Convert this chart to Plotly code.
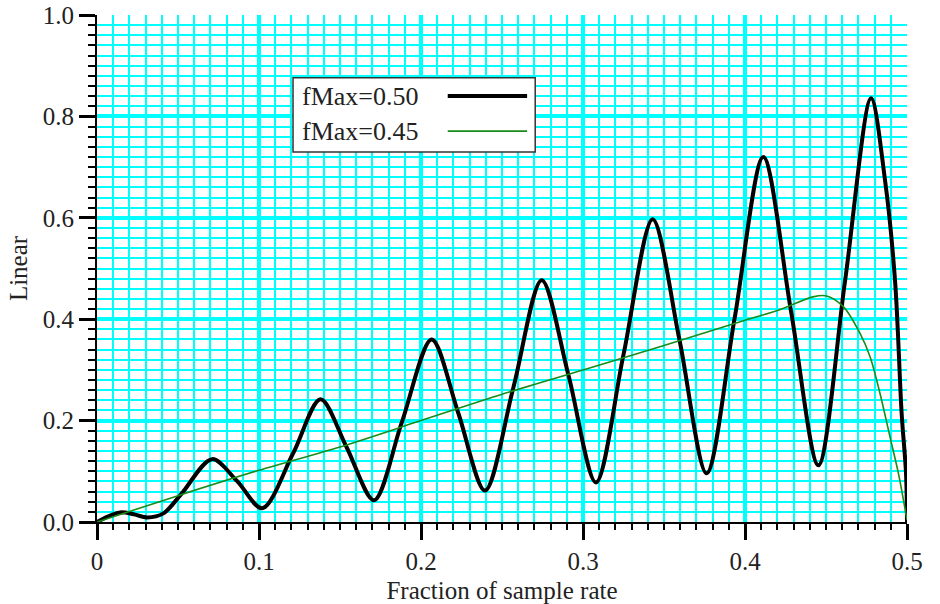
import plotly.graph_objects as go

# Response curves (fraction of sample rate -> linear magnitude)
freq_050 = [0.0, 0.007, 0.0144, 0.023, 0.031, 0.041, 0.052, 0.071, 0.0864, 0.102,
            0.121, 0.138, 0.154, 0.171, 0.188, 0.2066, 0.223, 0.2395, 0.257, 0.2745,
            0.291, 0.308, 0.325, 0.343, 0.3595, 0.3763, 0.3935, 0.4113, 0.4284, 0.4453,
            0.4617, 0.4778, 0.4864, 0.4926, 0.4967, 0.4994, 0.5]
gain_050 = [0.0, 0.011, 0.019, 0.015, 0.009, 0.017, 0.055, 0.124, 0.081, 0.027,
            0.135, 0.242, 0.148, 0.043, 0.195, 0.360, 0.215, 0.062, 0.265, 0.477,
            0.290, 0.078, 0.330, 0.597, 0.360, 0.096, 0.400, 0.720, 0.416, 0.112,
            0.474, 0.836, 0.675, 0.477, 0.214, 0.096, 0.0]

freq_045 = [0.0, 0.05, 0.10, 0.15, 0.20, 0.25, 0.30, 0.35, 0.40, 0.421,
            0.442, 0.4504, 0.4607, 0.471, 0.4772, 0.4833, 0.4895, 0.4947, 0.5]
gain_045 = [0.0, 0.052, 0.102, 0.148, 0.200, 0.252, 0.300, 0.348, 0.398, 0.418,
            0.444, 0.4458, 0.4247, 0.372, 0.326, 0.254, 0.168, 0.096, 0.004]

series_names = ["fMax=0.50", "fMax=0.45"]
series_colors = ["#000000", "#1a8a1a"]
series_widths = [4, 1.6]

x_ticks = [0, 0.1, 0.2, 0.3, 0.4, 0.5]
x_tick_text = ["0", "0.1", "0.2", "0.3", "0.4", "0.5"]
y_ticks = [0.0, 0.2, 0.4, 0.6, 0.8, 1.0]
y_tick_text = ["0.0", "0.2", "0.4", "0.6", "0.8", "1.0"]

FONT = "Liberation Serif, Times New Roman, serif"
TEXT_COLOR = "#222"
GRID = "#00ffff"

fig = go.Figure()
for xs, ys, name, col, w in zip([freq_050, freq_045], [gain_050, gain_045],
                                series_names, series_colors, series_widths):
    fig.add_trace(go.Scatter(x=xs, y=ys, mode="lines", name=name,
                             line=dict(color=col, width=w, shape="spline", smoothing=0.9),
                             showlegend=False))

axis_common = dict(
    showline=True, linecolor="black", linewidth=2,
    ticks="outside", tickcolor="black", tickwidth=3, ticklen=16,
    showgrid=True, gridcolor=GRID, gridwidth=3.5,
    zeroline=False, automargin=False,
    tickfont=dict(family=FONT, size=25, color=TEXT_COLOR),
)

fig.update_xaxes(
    range=[0, 0.5], tickvals=x_ticks, ticktext=x_tick_text,
    minor=dict(dtick=0.01, ticks="outside", ticklen=6, tickwidth=2, tickcolor="black",
               showgrid=True, gridcolor=GRID, gridwidth=2),
    title=dict(text="Fraction of sample rate", font=dict(family=FONT, size=25, color=TEXT_COLOR),
               standoff=10),
    **axis_common,
)
fig.update_yaxes(
    range=[0, 1.0], tickvals=y_ticks, ticktext=y_tick_text,
    minor=dict(dtick=0.02, ticks="outside", ticklen=7, tickwidth=2, tickcolor="black",
               showgrid=True, gridcolor=GRID, gridwidth=2),
    title=dict(text="Linear", font=dict(family=FONT, size=25, color=TEXT_COLOR), standoff=8),
    **axis_common,
)

# Legend box with the label on the left and the line sample on the right
shapes = [dict(type="rect", xref="paper", yref="paper", x0=0.242, x1=0.541, y0=0.730, y1=0.876,
               line=dict(color="#333", width=1.5), fillcolor="white", layer="above")]
annotations = []
legend_rows_y = [0.840, 0.771]
for name, col, w, ry in zip(series_names, series_colors, series_widths, legend_rows_y):
    annotations.append(dict(xref="paper", yref="paper", x=0.251, y=ry, text=name,
                            showarrow=False, xanchor="left", yanchor="middle",
                            font=dict(family=FONT, size=26, color=TEXT_COLOR)))
    shapes.append(dict(type="line", xref="paper", yref="paper", x0=0.433, x1=0.531,
                       y0=ry, y1=ry, line=dict(color=col, width=w), layer="above"))

fig.update_layout(
    width=940, height=604,
    margin=dict(l=97, r=33, t=15, b=82),
    plot_bgcolor="white", paper_bgcolor="white",
    shapes=shapes, annotations=annotations,
    showlegend=False,
)

fig.write_html("out.html")
